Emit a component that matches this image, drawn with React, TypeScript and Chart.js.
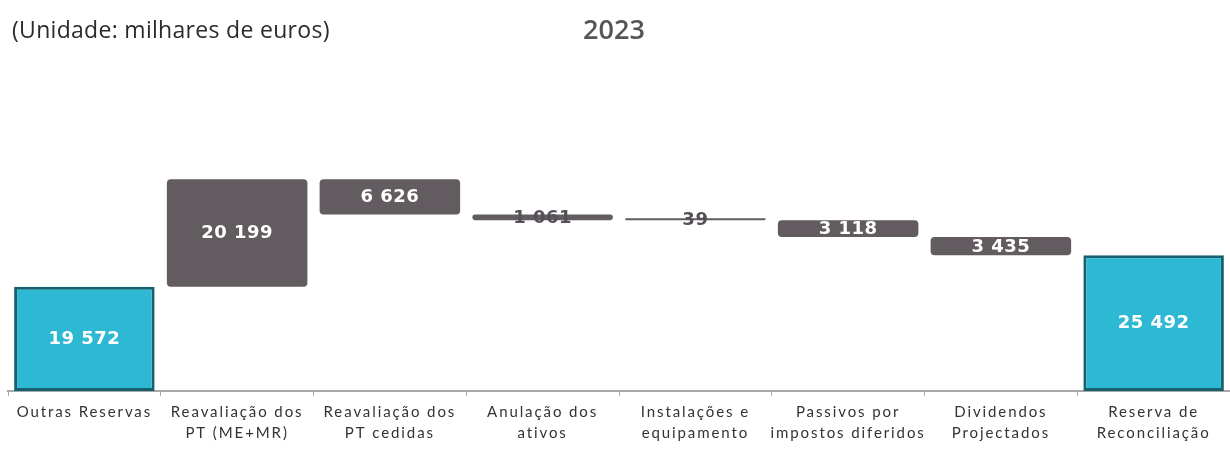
import React, { useEffect, useRef } from "react";
import { Chart, registerables } from "chart.js";

Chart.register(...registerables);

const categories: string[][] = [
  ["Outras Reservas"],
  ["Reavaliação dos", "PT (ME+MR)"],
  ["Reavaliação dos", "PT cedidas"],
  ["Anulação dos", "ativos"],
  ["Instalações e", "equipamento"],
  ["Passivos por", "impostos diferidos"],
  ["Dividendos", "Projectados"],
  ["Reserva de", "Reconciliação"],
];

// signed changes; first and last are totals
const values: number[] = [19572, 20199, -6626, -1061, -39, -3118, -3435, 25492];
const isTotal: boolean[] = [true, false, false, false, false, false, false, true];

const titleText = "(Unidade: milhares de euros)";
const yearText = "2023";

const TEAL = "#2DB8D3";
const TEAL_BORDER = "#17606F";
const GREY = "#625B60";

function buildRanges(): [number, number][] {
  const out: [number, number][] = [];
  let running = 0;
  values.forEach((v, i) => {
    if (isTotal[i]) {
      out.push([0, v]);
      running = v;
    } else {
      const next = running + v;
      out.push([Math.min(running, next), Math.max(running, next)]);
      running = next;
    }
  });
  return out;
}

function fmt(n: number): string {
  return Math.abs(n).toString().replace(/\B(?=(\d{3})+(?!\d))/g, " ");
}

export default function App() {
  const ref = useRef<HTMLCanvasElement | null>(null);
  useEffect(() => {
    document.body.style.margin = "0";
    const canvas = ref.current;
    if (!canvas) return;
    const ranges = buildRanges();

    const textPlugin = {
      id: "texts",
      beforeDraw(chart: any) {
        chart.ctx.letterSpacing = "1.9px";
      },
      afterDraw(chart: any) {
        const ctx = chart.ctx;
        ctx.save();
        ctx.letterSpacing = "0.3px";
        ctx.fillStyle = "#2b2b2b";
        ctx.font = "23px 'Open Sans'";
        ctx.textBaseline = "middle";
        ctx.textAlign = "left";
        ctx.fillText(titleText, 12, 31);
        ctx.fillStyle = "#555";
        ctx.letterSpacing = "0px";
        ctx.font = "600 27px 'Open Sans'";
        ctx.textAlign = "center";
        ctx.fillText(yearText, 614, 31);
        // value labels
        const meta = chart.getDatasetMeta(0);
        ctx.font = "bold 18px 'DejaVu Sans'";
        ctx.letterSpacing = "0.5px";
        meta.data.forEach((bar: any, i: number) => {
          const h = Math.abs(bar.base - bar.y);
          const cy = (bar.y + bar.base) / 2;
          const small = h < 12;
          ctx.fillStyle = small ? "#555058" : "#ffffff";
          ctx.textAlign = "center";
          ctx.textBaseline = "middle";
          ctx.fillText(fmt(values[i]), bar.x, small ? cy + 1 : cy + (h < 30 ? 1 : 0));
        });
        ctx.restore();
        ctx.letterSpacing = "0px";
      },
    };

    const chart = new Chart(canvas, {
      type: "bar",
      data: {
        labels: categories,
        datasets: [
          {
            data: ranges as any,
            backgroundColor: values.map((_, i) => (isTotal[i] ? TEAL : GREY)),
            borderColor: values.map((_, i) => (isTotal[i] ? TEAL_BORDER : GREY)),
            borderWidth: values.map((_, i) => (isTotal[i] ? 3 : 0)),
            borderRadius: values.map((_, i) => (isTotal[i] ? 0 : 4)),
            borderSkipped: false,
            barPercentage: 0.92,
            categoryPercentage: 1,
            minBarLength: 2,
          },
        ],
      },
      options: {
        responsive: false,
        animation: false,
        layout: { padding: { left: 8, right: 0, top: 178, bottom: 0 } },
        plugins: { legend: { display: false }, tooltip: { enabled: false } },
        scales: {
          x: {
            offset: true,
            border: { display: true, color: "#a8a8a8", width: 2 },
            grid: {
              display: true,
              offset: true,
              drawOnChartArea: false,
              drawTicks: true,
              tickLength: 5,
              color: "#a8a8a8",
            },
            ticks: {
              color: "#333",
              font: { family: "Lato", size: 15, lineHeight: 1.4 },
              maxRotation: 0,
              autoSkip: false,
              padding: 6,
            },
          },
          y: {
            display: false,
            min: 0,
            max: 40000,
          },
        },
      },
      plugins: [textPlugin],
    });
    return () => chart.destroy();
  }, []);
  return <canvas ref={ref} width={1230} height={450} style={{ display: "block" }} />;
}
